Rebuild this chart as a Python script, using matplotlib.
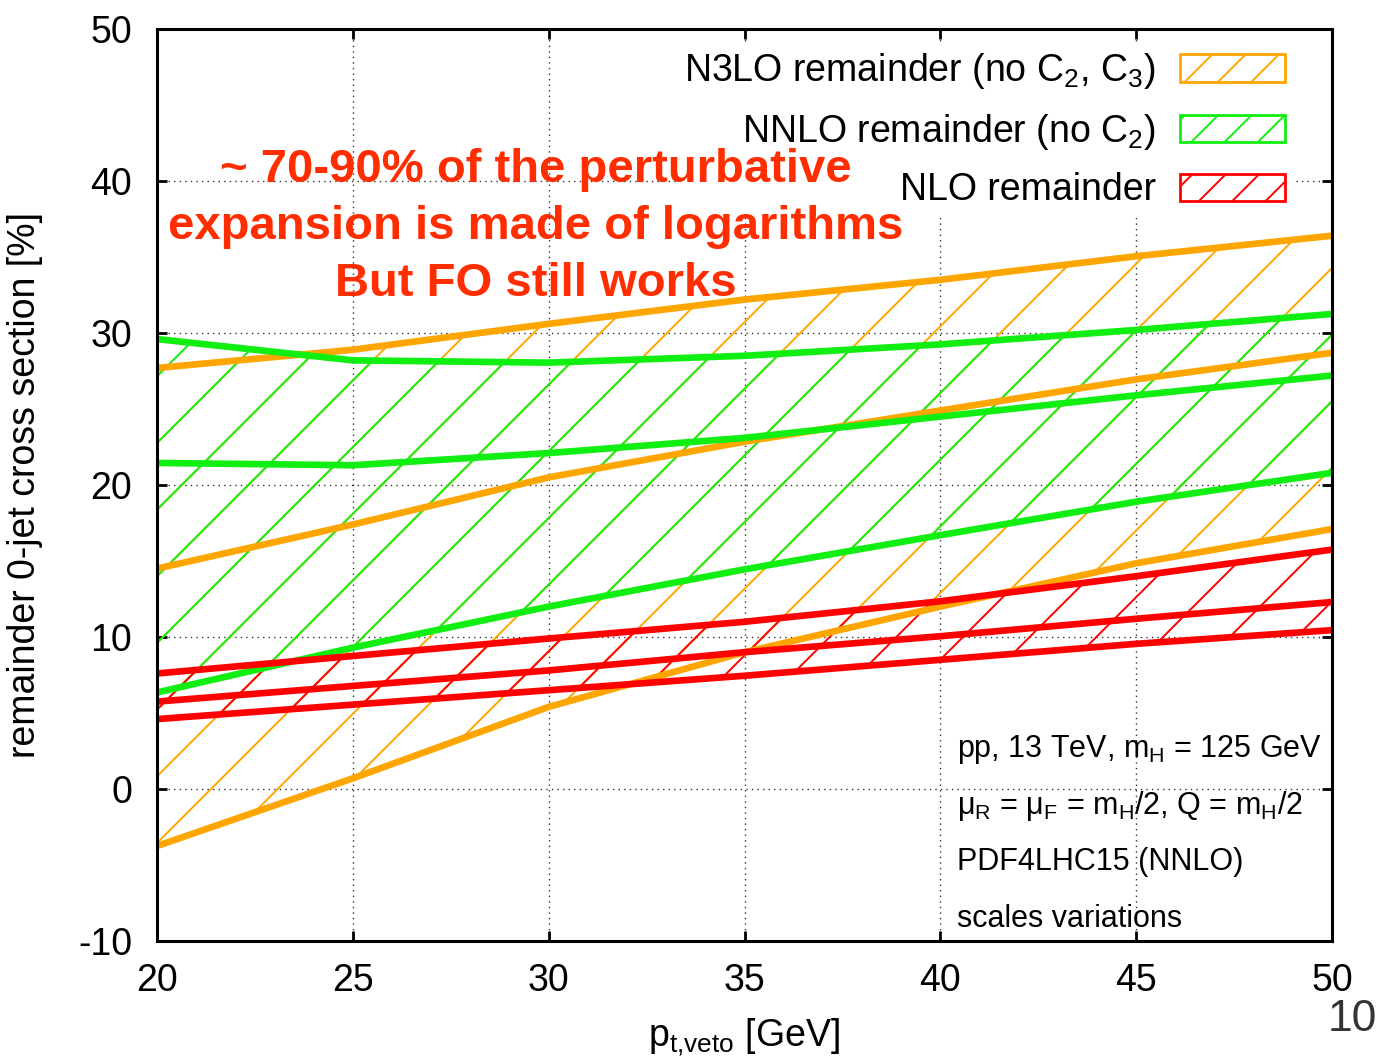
import numpy as np
import matplotlib
matplotlib.use("Agg")
import matplotlib.pyplot as plt
from matplotlib.patches import Patch

# pt,veto values [GeV]
ptveto = [20, 25, 30, 35, 40, 45, 50]

# N3LO remainder (no C2, C3): upper / central / lower
n3lo_hi = [27.7, 28.9, 30.6, 32.2, 33.5, 35.05, 36.4]
n3lo_mid = [14.5, 17.4, 20.5, 22.85, 24.9, 26.95, 28.7]
n3lo_lo = [-3.75, 0.7, 5.4, 9.0, 12.0, 14.85, 17.1]

# NNLO remainder (no C2)
nnlo_hi = [29.6, 28.2, 28.05, 28.5, 29.25, 30.2, 31.25]
nnlo_mid = [21.45, 21.3, 22.1, 23.1, 24.5, 25.9, 27.2]
nnlo_lo = [6.35, 9.3, 12.0, 14.45, 16.7, 18.9, 20.8]

# NLO remainder
nlo_hi = [7.6, 8.75, 9.9, 11.0, 12.35, 14.0, 15.75]
nlo_mid = [5.75, 6.78, 7.8, 9.0, 10.05, 11.2, 12.3]
nlo_lo = [4.6, 5.55, 6.5, 7.45, 8.5, 9.55, 10.45]

labels = ["N3LO remainder (no C$_\\mathrm{2}$, C$_\\mathrm{3}$)",
          "NNLO remainder (no C$_\\mathrm{2}$)",
          "NLO remainder"]
colors = ["#ffa500", "#11ee11", "#ff0000"]

info_lines = ["pp, 13 TeV, m$_\\mathrm{H}$ = 125 GeV",
              "μ$_\\mathrm{R}$ = μ$_\\mathrm{F}$ = m$_\\mathrm{H}$/2, Q = m$_\\mathrm{H}$/2",
              "PDF4LHC15 (NNLO)",
              "scales variations"]

plt.rcParams['font.family'] = ['Liberation Sans', 'DejaVu Sans']
plt.rcParams['mathtext.fontset'] = 'custom'
plt.rcParams['mathtext.rm'] = 'Liberation Sans'
plt.rcParams['hatch.linewidth'] = 0.7
plt.rcParams['axes.unicode_minus'] = False

fig = plt.figure(figsize=(6.89, 5.31), dpi=200)
ax = fig.add_axes([0.11394, 0.11394, 0.85269, 0.85876])

bands = [(n3lo_lo, n3lo_mid, n3lo_hi), (nnlo_lo, nnlo_mid, nnlo_hi), (nlo_lo, nlo_mid, nlo_hi)]
for (lo, mid, hi), c in zip(bands, colors):
    ax.fill_between(ptveto, lo, hi, facecolor='none', edgecolor=c, hatch='/', linewidth=0, zorder=2)
    for y in (lo, mid, hi):
        ax.plot(ptveto, y, color=c, lw=2.4, solid_capstyle='butt', zorder=3)

ax.set_xlim(20, 50)
ax.set_ylim(-10, 50)
ax.set_xticks(np.arange(20, 51, 5))
ax.set_yticks(np.arange(-10, 51, 10))
ax.grid(True, color='#333333', linestyle=(0, (1, 3)), linewidth=0.5)
ax.set_axisbelow(True)
ax.tick_params(direction='in', top=True, right=True, length=3.6, width=1.0, labelsize=13.5)
ax.tick_params(axis='y', pad=9)
ax.tick_params(axis='x', pad=8)
for s in ax.spines.values():
    s.set_linewidth(1.1)
    s.set_zorder(5)

ax.set_xlabel("p$_\\mathrm{t{,}veto}$ [GeV]", fontsize=13.5)
ax.xaxis.set_label_coords(0.5, -0.082)
ax.set_ylabel("remainder 0-jet cross section [%]", fontsize=13.5)
ax.yaxis.set_label_coords(-0.097, 0.5)

handles = [Patch(facecolor='white', edgecolor=c, hatch='//', linewidth=1.0) for c in colors]
leg = ax.legend(handles, labels, loc='upper right', bbox_to_anchor=(0.9665, 0.984),
                markerfirst=False, frameon=True, fancybox=False, framealpha=1,
                handlelength=2.8, handleheight=0.75, handletextpad=0.65,
                labelspacing=0.55, borderpad=0.2, borderaxespad=0,
                prop={'size': 13.5})
leg.get_frame().set_edgecolor('none')
leg.set_zorder(6)

ax.text(29.68, 37.0, "~ 70-90% of the perturbative\nexpansion is made of logarithms\nBut FO still works",
        ha='center', va='center', color='#ff2d00', fontsize=17, fontweight='bold',
        linespacing=1.38, zorder=7)

for i, line in enumerate(info_lines):
    ax.text(40.42, 2.57 - 3.7 * i, line, ha='left', va='center', fontsize=11, zorder=7)

fig.text(0.999, 0.04, "10", ha='right', va='center', fontsize=16, color='#333333')

fig.savefig("out.png", dpi=200)
